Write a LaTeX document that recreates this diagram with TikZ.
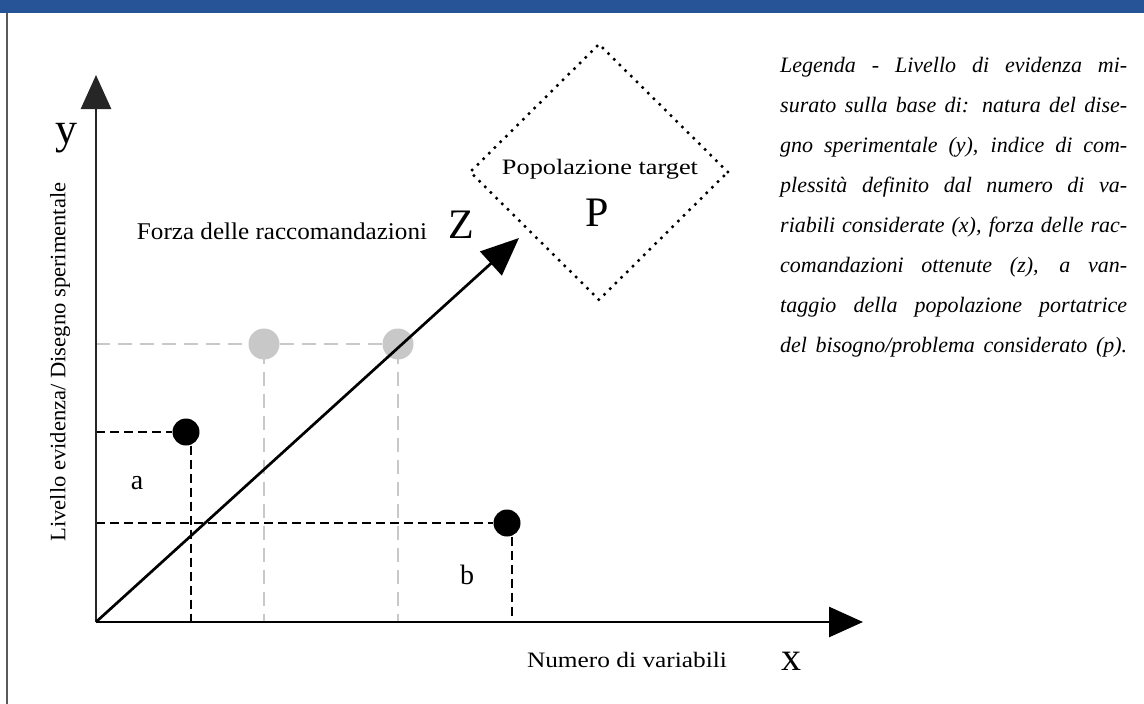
\documentclass[tikz,border=0pt]{standalone}
\usepackage{fontspec}
\setmainfont{Liberation Serif}
\usetikzlibrary{arrows.meta,shapes.geometric}
\definecolor{barblue}{RGB}{38,84,150}
\definecolor{dotgray}{RGB}{200,200,200}
\definecolor{framegray}{RGB}{90,90,90}
\begin{document}
\begin{tikzpicture}[x=1pt,y=-1pt,
  axis/.style={line width=2.7pt, -{Triangle[length=34pt,width=30pt]}},
  zaxis/.style={line width=2.7pt, -{Triangle[length=38pt,width=32pt]}},
  blackdot/.style={circle, fill=black, minimum size=27pt, inner sep=0pt},
  graydot/.style={circle, fill=dotgray, minimum size=31pt, inner sep=0pt},
  bdash/.style={dash pattern=on 9pt off 5pt, line width=1.6pt},
  gdash/.style={draw=dotgray, dash pattern=on 14pt off 8pt, line width=2.2pt},
  lbl/.style={inner sep=0pt, font=\fontsize{22}{22}\selectfont},
  letter/.style={inner sep=0pt, font=\fontsize{28}{28}\selectfont},
  big/.style={inner sep=0pt, font=\fontsize{42}{42}\selectfont},
  legline/.style={anchor=base west, inner sep=0pt, font=\fontsize{22}{22}\selectfont\itshape},
  popbox/.style={diamond, draw, line width=3.5pt, line cap=round, dash pattern=on 0pt off 8pt, minimum width=259pt, minimum height=257pt, inner sep=0pt},
]
\useasboundingbox (0,0) rectangle (1144,704);
\fill[white] (0,0) rectangle (1144,704);
\fill[barblue] (0,0) rectangle (1144,13);
\draw[framegray, line width=2pt] (7,13) -- (7,704);

% coordinates
\coordinate (O) at (96,622);
\coordinate (Ytip) at (96,75);
\coordinate (Xtip) at (863,622);
\coordinate (Ztip) at (519,238);
\coordinate (yg) at (96,344);
\coordinate (ya) at (96,432);
\coordinate (yb) at (96,523);

% dots
\node[graydot] (g1) at (264,344) {};
\node[graydot] (g2) at (398,344) {};
\node[blackdot] (d1) at (186,432) {};
\node[blackdot] (d2) at (507,523) {};

% dashed guides
\draw[gdash] (yg) -- (g1.west);
\draw[gdash] (g1.east) -- (g2.west);
\draw[gdash] ([yshift=10pt]g1.south) -- (g1 |- O);
\draw[gdash] ([yshift=10pt]g2.south) -- (g2 |- O);
\draw[bdash] (ya) -- (d1.west);
\draw[bdash] ([xshift=5pt]d1.south) -- ([xshift=5pt]d1.south |- O);
\draw[bdash] (yb) -- (d2.west);
\draw[bdash] ([xshift=5pt]d2.south) -- ([xshift=5pt]d2.south |- O);

% axes
\draw[axis, black!85] (O) -- (Ytip);
\draw[axis] (O) -- (Xtip);
\draw[zaxis] (O) -- (Ztip);

% diamond
\node[popbox] (pop) at (599,172) {};
\node[lbl] (popt) at (600,169) {\resizebox{196pt}{\height}{Popolazione target}};
\node[big] (pl) at (597,213) {P};

% labels
\node[lbl, font=\fontsize{24}{24}\selectfont] (forza) at (282,231) {\resizebox{290pt}{\height}{Forza delle raccomandazioni}};
\node[big] (zl) at (461,225) {Z};
\node[lbl] (num) at (627,660) {\resizebox{200pt}{\height}{Numero di variabili}};
\node[big, font=\fontsize{40}{40}\selectfont] (xl) at (791,661) {x};
\node[big, font=\fontsize{44}{44}\selectfont] (yl) at (66,138) {y};
\node[lbl, rotate=90] (liv) at (60,362) {\resizebox{359pt}{\height}{Livello evidenza/ Disegno sperimentale}};
\node[letter] (la) at (137,483) {a};
\node[letter] (lb) at (467,575) {b};

% legend
\node[legline] (l1) at (780,72)  {\makebox[347pt][s]{Legenda - Livello di evidenza mi-}};
\node[legline] (l2) at (780,112) {\makebox[347pt][s]{surato sulla base di: natura del dise-}};
\node[legline] (l3) at (780,152) {\makebox[347pt][s]{gno sperimentale (y), indice di com-}};
\node[legline] (l4) at (780,192) {\makebox[347pt][s]{plessità definito dal numero di va-}};
\node[legline] (l5) at (780,232) {\makebox[347pt][s]{riabili considerate (x), forza delle rac-}};
\node[legline] (l6) at (780,272) {\makebox[347pt][s]{comandazioni ottenute (z), a van-}};
\node[legline] (l7) at (780,312) {\makebox[347pt][s]{taggio della popolazione portatrice}};
\node[legline] (l8) at (780,352) {\makebox[347pt][s]{del bisogno/problema considerato (p).}};
\end{tikzpicture}
\end{document}
